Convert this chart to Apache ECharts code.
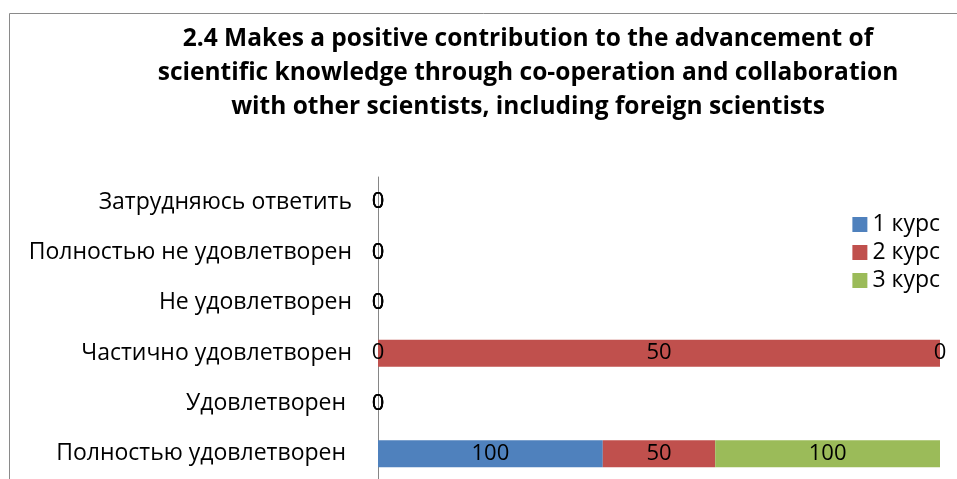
<!DOCTYPE html>
<html>
<head>
<meta charset="utf-8">
<script src="https://cdn.jsdelivr.net/npm/echarts@6/dist/echarts.min.js"></script>
<style>
  html, body { margin: 0; padding: 0; background: #fff; }
  #chart { width: 957px; height: 479px; }
</style>
</head>
<body>
<div id="chart"></div>
<script>
// категории снизу вверх
const categories = [
  'Полностью удовлетворен ',
  'Удовлетворен ',
  'Частично удовлетворен',
  'Не удовлетворен',
  'Полностью не удовлетворен',
  'Затрудняюсь ответить'
]
const seriesNames = ['1 курс', '2 курс', '3 курс']
const course1 = [100, 0, 0, 0, 0, 0]
const course2 = [50, 0, 50, 0, 0, 0]
const course3 = [100, 0, 0, 0, 0, 0]
const colors = ['#4F81BD', '#C0504D', '#9BBB59']

const titleText = '2.4 Makes a positive contribution to the advancement of\n' +
  'scientific knowledge through co-operation and collaboration\n' +
  'with other scientists, including foreign scientists'

const FONT = '"Open Sans", Lato, sans-serif'

// нормированная гистограмма (100%)
const raw = [course1, course2, course3]
const totals = categories.map((c, i) => raw.reduce((s, arr) => s + arr[i], 0))
const percent = arr => arr.map((v, i) => totals[i] ? v / totals[i] * 100 : 0)

const chart = echarts.init(document.getElementById('chart'))

const series = raw.map((arr, k) => ({
  name: seriesNames[k],
  type: 'bar',
  stack: 'total',
  barWidth: 27,
  itemStyle: { color: colors[k] },
  label: {
    show: true,
    position: 'inside',
    color: '#000',
    fontFamily: FONT,
    fontSize: 22,
    formatter: p => String(arr[p.dataIndex])
  },
  data: percent(arr)
}))

chart.setOption({
  animation: false,
  graphic: [
    {
      type: 'rect',
      shape: { x: 9.5, y: 13.5, width: 1000, height: 1000 },
      style: { fill: 'none', stroke: '#8a8a8a', lineWidth: 1 },
      z: -1
    },
    {
      type: 'text',
      x: 528,
      y: 22,
      style: {
        text: titleText,
        textAlign: 'center',
        fontFamily: FONT,
        fontWeight: 'bold',
        fontSize: 24.5,
        lineHeight: 34,
        fill: '#000'
      }
    }
  ],
  legend: {
    orient: 'vertical',
    right: 12,
    top: 208,
    itemWidth: 15,
    itemHeight: 15,
    itemGap: 5,
    icon: 'rect',
    textStyle: { fontFamily: FONT, fontSize: 23, color: '#000' },
    data: seriesNames
  },
  grid: {
    left: 378,
    right: 17,
    top: 177,
    bottom: -2,
    containLabel: false
  },
  xAxis: {
    type: 'value',
    min: 0,
    max: 100,
    show: false
  },
  yAxis: {
    type: 'category',
    data: categories,
    axisLine: { show: true, lineStyle: { color: '#868686', width: 1 } },
    axisTick: { show: false },
    axisLabel: {
      margin: 26,
      color: '#000',
      fontFamily: FONT,
      fontSize: 23
    }
  },
  series
})
</script>
</body>
</html>
